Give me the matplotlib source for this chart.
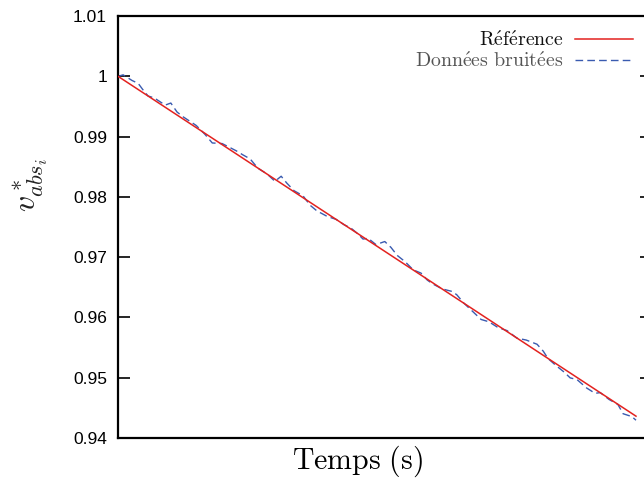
import matplotlib
matplotlib.use("Agg")
import matplotlib.pyplot as plt

plt.rcParams['font.family'] = ['Liberation Sans', 'DejaVu Sans']
plt.rcParams['mathtext.fontset'] = 'cm'

# Reference (straight line)
t_ref = [0.0, 10.0]
v_ref = [1.0000, 0.94362]

# Noisy data
t_noisy = [0.00, 0.10, 0.27, 0.39, 0.48, 0.58, 0.70, 0.91, 1.02, 1.14,
           1.26, 1.51, 1.68, 1.82, 2.01, 2.12, 2.28, 2.41, 2.55, 2.70,
           2.88, 3.03, 3.15, 3.26, 3.40, 3.57, 3.71, 3.84, 4.04, 4.21,
           4.36, 4.50, 4.63, 4.73, 4.83, 4.98, 5.15, 5.27, 5.39, 5.54,
           5.70, 5.85, 5.97, 6.08, 6.26, 6.45, 6.54, 6.68, 6.83, 7.01,
           7.16, 7.34, 7.51, 7.70, 7.88, 8.09, 8.21, 8.30, 8.46, 8.61,
           8.73, 8.86, 9.05, 9.21, 9.31, 9.48, 9.65, 9.75, 9.92, 10.00]
v_noisy = [1.00000, 1.00024, 0.99931, 0.99882, 0.99778, 0.99673, 0.99641, 0.99522, 0.99556, 0.99407,
           0.99326, 0.99184, 0.99036, 0.98894, 0.98884, 0.98836, 0.98765, 0.98697, 0.98630, 0.98476,
           0.98378, 0.98258, 0.98342, 0.98227, 0.98101, 0.98019, 0.97860, 0.97767, 0.97675, 0.97627,
           0.97540, 0.97480, 0.97387, 0.97300, 0.97312, 0.97208, 0.97259, 0.97161, 0.97029, 0.96926,
           0.96789, 0.96735, 0.96620, 0.96554, 0.96473, 0.96431, 0.96376, 0.96234, 0.96113, 0.95966,
           0.95928, 0.95830, 0.95782, 0.95657, 0.95625, 0.95555, 0.95440, 0.95319, 0.95199, 0.95095,
           0.94997, 0.94970, 0.94828, 0.94741, 0.94753, 0.94639, 0.94557, 0.94403, 0.94355, 0.94295]

y_ticks = [0.94, 0.95, 0.96, 0.97, 0.98, 0.99, 1.00, 1.01]
y_tick_labels = ['0.94', '0.95', '0.96', '0.97', '0.98', '0.99', '1', '1.01']

label_ref = r'$\mathrm{R\acute{e}f\acute{e}rence}$'
label_noisy = r'$\mathrm{Donn\acute{e}es\ bruit\acute{e}es}$'

fig = plt.figure(figsize=(6.44, 4.79), dpi=100)
ax = fig.add_axes([118/644, 41/479, 534/644, 422/479])

ax.plot(t_ref, v_ref, color='#e3221f', lw=1.1, label=label_ref, zorder=3)
ax.plot(t_noisy, v_noisy, color='#3a5bb0', lw=1.0, linestyle=(0, (5.5, 3.0)),
        label=label_noisy, zorder=2)

ax.set_xlim(0, 534/51.8)
ax.set_ylim(0.94, 1.01)
ax.set_yticks(y_ticks)
ax.set_yticklabels(y_tick_labels)
ax.set_xticks([])
ax.tick_params(axis='y', which='both', direction='in', length=8.5, width=1.2,
               left=True, right=True, labelsize=12.5, pad=8)
for s in ax.spines.values():
    s.set_linewidth(1.6)

fig.text(357/644, 1 - 461/479, r'$\mathrm{Temps\ (s)}$', ha='center', va='center',
         fontsize=21.5)
fig.text(31/644, 1 - 185/479, r'$v^*_{abs_i}$', ha='center', va='center',
         rotation=90, fontsize=23, color='#222222')

leg = ax.legend(loc='upper right', bbox_to_anchor=(633/644, 1 - 31/479),
                bbox_transform=fig.transFigure, frameon=False, markerfirst=False,
                fontsize=14.3, handlelength=2.9, handletextpad=0.6,
                labelspacing=0.05, borderpad=0, borderaxespad=0)
txts = leg.get_texts()
txts[0].set_color('#111111')
txts[1].set_color('#555555')

fig.savefig('out.png', dpi=100)
